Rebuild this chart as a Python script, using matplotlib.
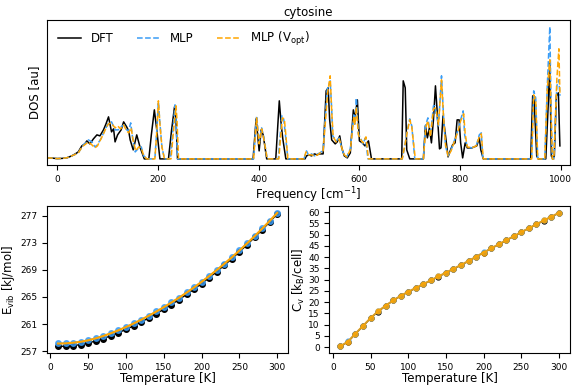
import numpy as np
import matplotlib
matplotlib.use('Agg')
import matplotlib.pyplot as plt

# DOS, frequency [cm-1] and intensity [au]
dft_f = [-20, -10, 0, 10, 20, 29, 36, 42, 49, 55, 59, 65, 72, 79, 85, 92, 97, 102, 108, 112, 115, 120, 127, 132, 138, 142, 145, 151, 158, 165, 173,
         182, 187, 193, 198, 204, 221, 227, 233, 236, 239,
         389, 395, 401, 405, 409, 416, 434, 441, 445, 448, 454,
         492, 495, 500, 505, 511, 516, 520, 528, 534, 538, 541, 545, 552, 556, 561, 565, 570, 576, 582, 588, 591, 596, 600, 606, 611, 618, 624,
         684, 687, 691, 694, 700, 727, 731, 735, 739, 743, 747, 751, 755, 759, 762, 766, 771, 776, 781, 785, 790, 794, 798, 801, 805, 810, 814, 823, 833, 838, 841, 846,
         940, 944, 947, 952, 955, 970, 975, 978, 981, 984, 987, 991, 995, 998]
dft_d = [1.0, 0.8, 0.3, 0.5, 1.2, 3, 5, 7, 13, 15, 18, 15, 20, 24, 23, 29, 35, 42, 27, 30, 17, 24, 29, 37, 32, 28, 19, 9, 24, 11, 0,
         0, 24, 49, 28, 0, 0, 28, 52, 38, 0,
         0, 40, 8, 29, 24, 0, 0, 58, 33, 20, 0,
         0, 3, 4, 3, 5, 4, 5, 5, 68, 71, 39, 19, 15, 17, 23, 11, 3, 1, 6, 49, 41, 59, 18, 16, 13, 18, 0,
         0, 78, 71, 9, 0, 0, 33, 21, 31, 16, 39, 73, 43, 10, 11, 43, 23, 2, 9, 14, 16, 39, 39, 16, 1, 16, 11, 11, 13, 21, 9, 0,
         0, 63, 58, 3, 0, 0, 56, 96, 3, 0, 3, 63, 66, 13]

mlp_f = [-20, -10, 0, 10, 20, 29, 36, 42, 47, 52, 57, 62, 69, 75, 80, 83, 88, 92, 97, 102, 108, 115, 121, 127, 133, 138, 142, 146, 150, 155, 162, 167, 172, 178,
         194, 198, 201, 204, 208, 213, 225, 230, 234, 236, 239,
         390, 396, 401, 406, 410, 417, 439, 443, 446, 450, 453, 458,
         490, 495, 500, 505, 511, 517, 522, 528, 536, 542, 545, 547, 554, 560, 565, 570, 575, 582, 589, 591, 594, 598, 603, 607, 612, 617,
         685, 690, 694, 700, 704, 710, 727, 731, 736, 741, 747, 750, 752, 757, 763, 767, 771, 776, 782, 789, 796, 801, 806, 809, 814, 823, 832, 838, 842, 845,
         942, 946, 950, 954, 968, 973, 978, 981, 983, 986, 992, 996, 998]
mlp_d = [1.0, 0.8, 0.3, 0.5, 1.2, 3, 4.5, 6, 10, 14, 16, 19, 17, 12, 14, 17, 21, 26, 31, 36, 37, 29, 29, 32, 34, 29, 28, 36, 20, 7, 11, 12, 3, 0,
         0, 30, 57, 36, 12, 0, 0, 30, 54, 40, 0,
         0, 43, 16, 31, 22, 0, 0, 25, 43, 39, 25, 0,
         0, 8, 3, 5, 3, 5, 6, 9, 69, 78, 50, 23, 18, 21, 10, 4, 2, 10, 44, 35, 61, 25, 20, 15, 21, 0,
         0, 12, 26, 40, 33, 0, 0, 33, 41, 23, 53, 53, 46, 33, 83, 43, 13, 3, 9, 19, 29, 39, 48, 24, 12, 11, 13, 24, 26, 0,
         0, 68, 61, 0, 0, 73, 132, 39, 0, 0, 73, 79, 63]

opt_f = [-20, -10, 0, 10, 20, 29, 36, 42, 47, 52, 57, 62, 69, 75, 80, 84, 88, 92, 97, 102, 107, 115, 120, 126, 132, 138, 142, 147, 151, 156, 162, 167, 172, 178,
         194, 198, 201, 204, 208, 213, 226, 231, 236, 238, 241,
         390, 396, 401, 406, 410, 417, 440, 444, 447, 451, 454, 458,
         490, 494, 500, 505, 511, 517, 522, 528, 537, 542, 545, 548, 554, 560, 565, 570, 575, 582, 589, 591, 594, 598, 603, 607, 613, 618,
         685, 690, 695, 700, 704, 711, 727, 732, 736, 741, 747, 750, 753, 757, 763, 767, 771, 776, 782, 789, 796, 801, 807, 810, 814, 823, 832, 838, 842, 846,
         942, 946, 950, 954, 968, 973, 978, 981, 983, 986, 992, 996, 998]
opt_d = [1.0, 0.8, 0.3, 0.5, 1.2, 3, 4.5, 6, 10, 13, 15, 17, 14, 11, 13, 17, 21, 25, 31, 35, 36, 31, 33, 30, 34, 28, 26, 31, 18, 8, 12, 11, 3, 0,
         0, 28, 58, 35, 12, 0, 0, 28, 53, 38, 0,
         0, 41, 15, 30, 21, 0, 0, 24, 41, 40, 24, 0,
         0, 7, 4, 4, 3, 4, 6, 8, 66, 83, 48, 22, 17, 20, 11, 4, 2, 9, 42, 34, 52, 24, 19, 16, 22, 0,
         0, 13, 27, 39, 32, 0, 0, 32, 38, 22, 50, 51, 47, 34, 79, 42, 14, 3, 8, 18, 28, 38, 45, 25, 12, 11, 13, 22, 25, 0,
         0, 64, 59, 0, 0, 70, 99, 37, 0, 0, 80, 110, 66]

# thermodynamics vs temperature
temp = [10, 20, 30, 40, 50, 60, 70, 80, 90, 100, 110, 120, 130, 140, 150,
        160, 170, 180, 190, 200, 210, 220, 230, 240, 250, 260, 270, 280, 290, 300]
evib_dft = [257.70, 257.73, 257.82, 257.97, 258.20, 258.50, 258.86, 259.27, 259.72, 260.21, 260.74, 261.30, 261.90, 262.53, 263.19,
            263.88, 264.60, 265.36, 266.15, 266.98, 267.84, 268.74, 269.67, 270.64, 271.65, 272.70, 273.78, 274.90, 276.05, 277.25]
evib_mlp = [258.15, 258.18, 258.27, 258.41, 258.63, 258.92, 259.27, 259.67, 260.11, 260.59, 261.11, 261.66, 262.25, 262.87, 263.52,
            264.20, 264.91, 265.66, 266.44, 267.26, 268.11, 269.00, 269.92, 270.88, 271.88, 272.92, 273.99, 275.10, 276.24, 277.43]
evib_opt = [258.12, 258.15, 258.24, 258.38, 258.60, 258.89, 259.24, 259.64, 260.08, 260.56, 261.08, 261.63, 262.22, 262.84, 263.49,
            264.17, 264.88, 265.63, 266.41, 267.23, 268.08, 268.97, 269.89, 270.85, 271.85, 272.89, 273.96, 275.07, 276.21, 277.40]
cv_dft = [0.3, 2.3, 5.9, 9.3, 12.8, 15.8, 18.3, 20.7, 22.7, 24.5, 26.2, 27.9, 29.6, 31.3, 33.0,
          34.7, 36.4, 38.2, 40.1, 42.0, 43.8, 45.6, 47.4, 49.2, 51.0, 52.8, 54.5, 56.2, 57.9, 59.6]
cv_mlp = [0.4, 2.5, 6.0, 9.4, 12.9, 15.9, 18.4, 20.8, 22.8, 24.6, 26.3, 28.0, 29.7, 31.4, 33.1,
          34.8, 36.5, 38.3, 40.2, 42.1, 43.9, 45.7, 47.5, 49.3, 51.1, 52.9, 54.6, 56.3, 58.0, 59.7]
cv_opt = [0.4, 2.4, 6.0, 9.4, 12.9, 15.9, 18.4, 20.7, 22.8, 24.6, 26.3, 28.0, 29.7, 31.4, 33.1,
          34.8, 36.5, 38.3, 40.1, 42.0, 43.8, 45.7, 47.5, 49.3, 51.1, 52.8, 54.6, 56.3, 58.0, 59.7]

blue = '#3a9cf5'
orange = '#ffa500'

fig = plt.figure(figsize=(5.81, 3.88), dpi=100)

ax = fig.add_axes([0.081, 0.575, 0.900, 0.374])
ax.plot(dft_f, dft_d, color='k', lw=1.1, label='DFT')
ax.plot(mlp_f, mlp_d, color=blue, lw=1.1, ls='--', label='MLP')
ax.plot(opt_f, opt_d, color=orange, lw=1.1, ls='--', label=r'MLP (V$_{\rm opt}$)')
ax.set_xlim(-20, 1018)
ax.set_ylim(-6, 139)
ax.set_yticks([])
ax.set_xticks([0, 200, 400, 600, 800, 1000])
ax.tick_params(labelsize=6.5)
ax.set_xlabel(r'Frequency [cm$^{-1}$]', fontsize=8.5, labelpad=1)
ax.set_ylabel('DOS [au]', fontsize=8.5)
ax.set_title('cytosine', fontsize=8.5, pad=3)
ax.legend(loc='upper left', ncol=3, frameon=False, fontsize=8.5, bbox_to_anchor=(0.0, 1.0))

ax1 = fig.add_axes([0.081, 0.090, 0.415, 0.379])
ax1.plot(temp, evib_dft, 'o-', color='k', ms=4, lw=1.0)
ax1.plot(temp, evib_mlp, 'o-', color=blue, ms=4, lw=1.0, alpha=0.8)
ax1.plot(temp, evib_opt, '-', color=orange, lw=1.5)
ax1.set_yticks([257, 261, 265, 269, 273, 277])
ax1.set_xticks([0, 50, 100, 150, 200, 250, 300])
ax1.tick_params(labelsize=6.5)
ax1.set_xlabel('Temperature [K]', fontsize=8.5, labelpad=0)
ax1.set_ylabel(r'E$_{\rm vib}$ [kJ/mol]', fontsize=8.5, labelpad=2)

ax2 = fig.add_axes([0.567, 0.090, 0.414, 0.379])
ax2.plot(temp, cv_dft, 'o-', color='k', ms=3.5, lw=1.0)
ax2.plot(temp, cv_mlp, 'o-', color=blue, ms=3.5, lw=1.0, alpha=0.8)
ax2.plot(temp, cv_opt, 'o-', color=orange, ms=3.5, lw=1.5, alpha=0.8)
ax2.set_yticks(np.arange(0, 61, 5))
ax2.set_xticks([0, 50, 100, 150, 200, 250, 300])
ax2.tick_params(labelsize=6.5)
ax2.set_xlabel('Temperature [K]', fontsize=8.5, labelpad=0)
ax2.set_ylabel(r'C$_{\rm v}$ [k$_{\rm B}$/cell]', fontsize=8.5, labelpad=1)

fig.savefig('out.png', dpi=100)
